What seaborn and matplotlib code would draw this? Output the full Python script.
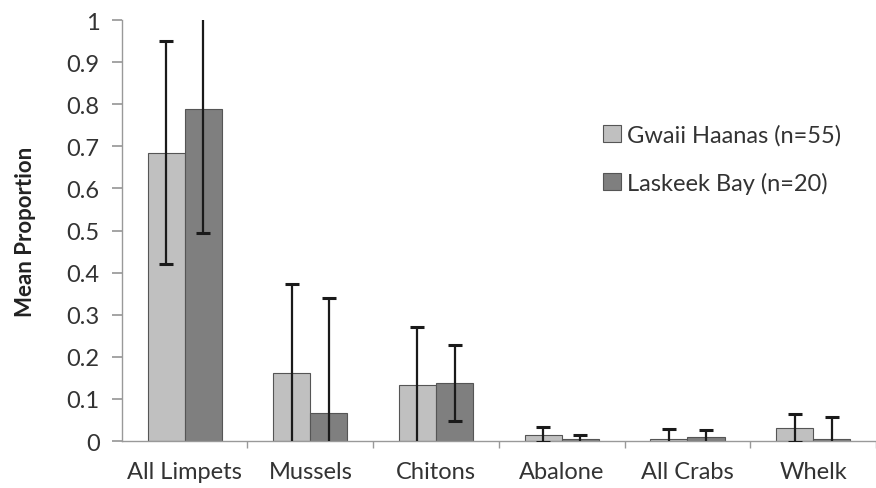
import numpy as np
import pandas as pd
import matplotlib
matplotlib.use("Agg")
import matplotlib.pyplot as plt
import seaborn as sns

# data
categories = ['All Limpets', 'Mussels', 'Chitons', 'Abalone', 'All Crabs', 'Whelk']
sites = ['Gwaii Haanas (n=55)', 'Laskeek Bay (n=20)']
gwaii_mean = [0.685, 0.161, 0.133, 0.015, 0.006, 0.031]
gwaii_sd = [0.265, 0.212, 0.139, 0.018, 0.022, 0.034]
laskeek_mean = [0.788, 0.066, 0.138, 0.004, 0.009, 0.005]
laskeek_sd = [0.293, 0.273, 0.090, 0.011, 0.018, 0.051]

df = pd.DataFrame({
    'Category': categories * 2,
    'Site': [sites[0]] * len(categories) + [sites[1]] * len(categories),
    'Mean': gwaii_mean + laskeek_mean,
})
errors = [gwaii_sd, laskeek_sd]

sns.set_theme(style="white")
plt.rcParams['font.family'] = ['Lato', 'DejaVu Sans']

fig = plt.figure(figsize=(8.76, 4.89), dpi=100)
ax = fig.add_axes([0.139, 0.096, 0.861, 0.861])

sns.barplot(data=df, x='Category', y='Mean', hue='Site', order=categories,
            hue_order=sites, palette=['#c0c0c0', '#7f7f7f'], width=0.59,
            errorbar=None, edgecolor='#555555', linewidth=0.8, ax=ax)

# error bars at bar centres
for cont, err in zip(ax.containers, errors):
    for bar, e in zip(cont, err):
        xc = bar.get_x() + bar.get_width() / 2
        ax.errorbar(xc, bar.get_height(), yerr=e, fmt='none', ecolor='#1a1a1a',
                    elinewidth=1.6, capsize=5, capthick=2.2, zorder=5)

ax.set_ylim(0, 1)
ax.set_xlim(-0.5, 5.26)
ax.set_yticks(np.arange(0, 1.01, 0.1))
ax.set_yticklabels(['0'] + [f'{v:.1f}' for v in np.arange(0.1, 0.95, 0.1)] + ['1'])
ax.set_xlabel('')
ax.set_ylabel('Mean Proportion', fontsize=16, fontweight='bold', color='#222222', labelpad=22)

ax.set_xticks(np.arange(len(categories)) + 0.5, minor=True)
ax.tick_params(axis='x', which='major', length=0, labelsize=17, labelcolor='#333333', pad=14)
ax.tick_params(axis='x', which='minor', length=5, color='#999999', direction='out', bottom=True)
ax.tick_params(axis='y', length=7, color='#999999', direction='out', left=True,
               labelsize=17, labelcolor='#333333', pad=9)

for side in ['top', 'right']:
    ax.spines[side].set_visible(False)
for side in ['left', 'bottom']:
    ax.spines[side].set_color('#999999')
    ax.spines[side].set_linewidth(1)

ax.legend(loc='center left', bbox_to_anchor=(0.61, 0.67), frameon=False, fontsize=17,
          handlelength=0.75, handleheight=0.75, handletextpad=0.25, labelspacing=1.1,
          labelcolor='#333333')

fig.savefig('out.png', dpi=100)
